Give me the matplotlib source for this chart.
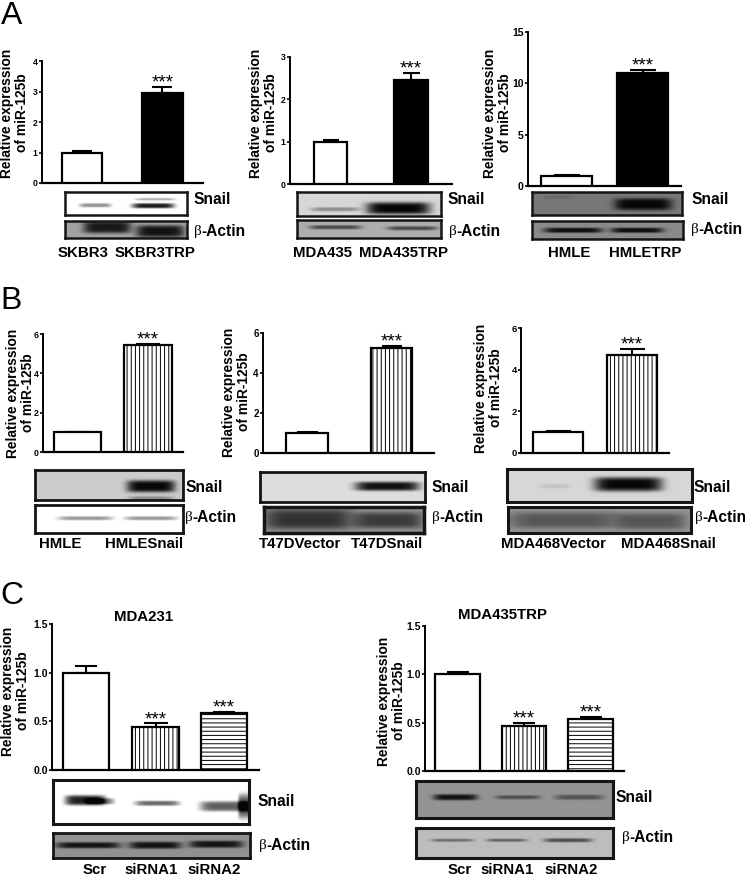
import numpy as np
import matplotlib

matplotlib.use("Agg")
import matplotlib.pyplot as p

p.rcParams["font.family"] = ["Liberation Sans", "DejaVu Sans"]
p.rcParams["hatch.linewidth"] = 0.7

WIDTH = 745
HEIGHT = 876

ylabel_text = "Relative expression\nof miR-125b"

# bar values and upper error
a1_values = [1.0, 2.95]
a1_err = [0.06, 0.2]
a2_values = [1.0, 2.45]
a2_err = [0.03, 0.17]
a3_values = [1.0, 11.0]
a3_err = [0.05, 0.3]
b1_values = [1.0, 5.45]
b1_err = [0.03, 0.03]
b2_values = [1.0, 5.25]
b2_err = [0.05, 0.1]
b3_values = [1.0, 4.7]
b3_err = [0.05, 0.28]
c1_values = [1.0, 0.44, 0.59]
c1_err = [0.07, 0.04, 0.01]
c2_values = [1.0, 0.47, 0.54]
c2_err = [0.02, 0.03, 0.02]

a1_ticks = [0, 1, 2, 3, 4]
a2_ticks = [0, 1, 2, 3]
a3_ticks = [0, 5, 10, 15]
b_ticks = [0, 2, 4, 6]
c_ticks = [0.0, 0.5, 1.0, 1.5]
c_ticklabels = ["0.0", "0.5", "1.0", "1.5"]


def px_rect(x0, y0, x1, y1):
    return [x0 / WIDTH, 1 - y1 / HEIGHT, (x1 - x0) / WIDTH, (y1 - y0) / HEIGHT]


def put_text(fig, x, y, s, **kw):
    kw.setdefault("ha", "center")
    kw.setdefault("va", "center")
    return fig.text(x / WIDTH, 1 - y / HEIGHT, s, **kw)


def draw_chart(fig, frame, bars, values, err, ticks, styles, stars, tick_size, ticklabels=None):
    x0, y_top, x1, y_bot = frame
    ax = fig.add_axes(px_rect(x0, y_top, x1, y_bot))
    ax.patch.set_alpha(0)
    for i, (left, right) in enumerate(bars):
        width = right - left
        centre = (left + right) / 2
        ax.errorbar(centre, values[i], yerr=[[0], [err[i]]], color="black", lw=1.5,
                    capsize=width * 0.25 * 0.72, capthick=1.5, zorder=2)
        ax.bar(centre, values[i], width=width, facecolor="white", edgecolor="black",
               linewidth=1.6, hatch=styles[i], zorder=3)
        if stars[i]:
            ax.annotate("***", (centre, values[i] + err[i]), xytext=(0, -0.5),
                        textcoords="offset points", ha="center", va="baseline", fontsize=13.5,
                        annotation_clip=False)
    ax.set_xlim(x0, x1)
    ax.set_ylim(ticks[0], ticks[-1])
    ax.set_xticks([])
    ax.set_yticks(ticks)
    if ticklabels:
        ax.set_yticklabels(ticklabels)
    ax.tick_params(axis="y", length=2.5, width=1.2, pad=0.5, labelsize=tick_size)
    for label in ax.get_yticklabels():
        label.set_fontweight("bold")
    ax.spines["top"].set_visible(False)
    ax.spines["right"].set_visible(False)
    ax.spines["left"].set_linewidth(1.4)
    ax.spines["bottom"].set_linewidth(1.6)
    return ax


def draw_blot(fig, rect, background, bands, frame_width=1.8):
    # a blot is a grey panel with soft dark bands on it, flat in the middle
    x0, y0, x1, y1 = rect
    ax = fig.add_axes(px_rect(x0, y0, x1, y1))
    xs, ys = np.meshgrid(np.arange(x0, x1, 0.5), np.arange(y0, y1, 0.5))
    density = np.zeros_like(xs, dtype=float)
    for cx, cy, wx, wy, strength in bands:
        density += strength * np.exp(-np.abs((xs - cx) / wx) ** 6 - np.abs((ys - cy) / wy) ** 4)
    img = background * (1 - np.clip(density, 0, 1)) + 0.02
    ax.imshow(img, cmap="gray", vmin=0, vmax=1, aspect="auto", interpolation="bilinear")
    ax.set_xticks([])
    ax.set_yticks([])
    for spine in ax.spines.values():
        spine.set_linewidth(frame_width)
        spine.set_color("#151515")


def snail_label(fig, x, y):
    put_text(fig, x, y, "Snail", ha="left", fontsize=11.2, fontweight="bold")


def actin_label(fig, x, y):
    put_text(fig, x, y, "β", ha="left", fontsize=11, family="Liberation Serif")
    put_text(fig, x + 7, y, "-Actin", ha="left", fontsize=11.2, fontweight="bold")


def y_label(fig, x, y):
    put_text(fig, x + 1.5, y, ylabel_text, rotation=90, fontsize=9.9, fontweight="bold",
             linespacing=1.12, multialignment="center")


def bold_label(fig, x, y, s, size=10.8):
    put_text(fig, x, y, s, fontsize=size, fontweight="bold")


def panel_letter(fig, x, y, s):
    put_text(fig, x, y, s, ha="left", va="baseline", fontsize=23)


def panel_a(fig):
    panel_letter(fig, 1, 24, "A")

    draw_chart(fig, (42, 61, 203, 183), [(62, 102), (142, 183)], a1_values, a1_err, a1_ticks,
               [None, None], [False, True], 6.3)
    fig.axes[-1].patches[1].set_facecolor("black")
    y_label(fig, 13, 113)
    draw_blot(fig, (65, 192, 187, 215), 1.0,
              [(95, 205, 16, 2, 0.45), (153, 205.5, 21, 2.5, 0.92), (155, 199, 20, 1.2, 0.35)])
    draw_blot(fig, (65, 221, 187, 238), 0.62, [(107, 227, 24, 6, 0.88), (160, 231, 24, 6, 0.92)])
    snail_label(fig, 194, 200)
    actin_label(fig, 194, 231)
    bold_label(fig, 83, 253, "SKBR3")
    bold_label(fig, 155, 253, "SKBR3TRP")

    draw_chart(fig, (290, 57, 452, 184), [(314, 347), (394, 428)], a2_values, a2_err, a2_ticks,
               [None, None], [False, True], 6.3)
    fig.axes[-1].patches[1].set_facecolor("black")
    y_label(fig, 262, 113)
    draw_blot(fig, (297, 192, 441, 216), 0.82, [(335, 209, 24, 2, 0.35), (398, 208, 32, 6, 1.0)])
    draw_blot(fig, (297, 220, 441, 238), 0.66, [(335, 227, 26, 2, 0.6), (412, 228, 25, 2, 0.6)])
    snail_label(fig, 448, 199)
    actin_label(fig, 449, 231)
    bold_label(fig, 323, 253, "MDA435")
    bold_label(fig, 403, 253, "MDA435TRP")

    draw_chart(fig, (528, 32, 681, 186), [(541, 592), (617, 668)], a3_values, a3_err, a3_ticks,
               [None, None], [False, True], 7.6)
    fig.axes[-1].patches[1].set_facecolor("black")
    y_label(fig, 496, 113)
    draw_blot(fig, (532, 192, 682, 215), 0.45, [(643, 204, 29, 6, 1.0), (557, 197, 14, 1.5, 0.15)])
    draw_blot(fig, (532, 221, 683, 239), 0.52, [(573, 230, 29, 2.5, 0.95), (637, 230, 26, 2.5, 0.95)])
    snail_label(fig, 691, 200)
    actin_label(fig, 691, 230)
    bold_label(fig, 569, 253, "HMLE")
    bold_label(fig, 645, 253, "HMLETRP")


def panel_b(fig):
    panel_letter(fig, 0, 309, "B")

    draw_chart(fig, (43, 334, 183, 452), [(54, 101), (124, 172)], b1_values, b1_err, b_ticks,
               [None, "||||"], [False, True], 6.3)
    y_label(fig, 19, 393)
    draw_blot(fig, (35, 470, 183, 500), 0.78, [(150, 486, 24, 6, 1.0), (150, 499, 22, 3, 0.35)], 2)
    draw_blot(fig, (35, 505, 183, 533), 1.0, [(85, 518, 27, 2, 0.42), (150, 518, 26, 2, 0.42)], 2)
    snail_label(fig, 185, 488)
    actin_label(fig, 185, 517)
    bold_label(fig, 60, 544, "HMLE")
    bold_label(fig, 144, 544, "HMLESnail")

    draw_chart(fig, (263, 333, 434, 453), [(286, 328), (371, 412)], b2_values, b2_err, b_ticks,
               [None, "||||"], [False, True], 7)
    y_label(fig, 235, 392)
    draw_blot(fig, (260, 472, 425, 502), 0.85, [(387, 486, 32, 4.5, 0.95)], 2)
    draw_blot(fig, (264, 507, 424, 533), 0.55, [(308, 519, 44, 10, 0.68), (388, 520, 34, 8, 0.62)], 2.5)
    snail_label(fig, 431, 488)
    actin_label(fig, 432, 517)
    bold_label(fig, 300, 544, "T47DVector")
    bold_label(fig, 387, 544, "T47DSnail")

    draw_chart(fig, (521, 328, 669, 453), [(533, 583), (607, 657)], b3_values, b3_err, b_ticks,
               [None, "||||"], [False, True], 6.8)
    y_label(fig, 487, 388)
    draw_blot(fig, (507, 469, 692, 502), 0.82, [(628, 484, 34, 7, 1.0), (555, 486, 15, 2, 0.1)], 2.2)
    draw_blot(fig, (508, 507, 691, 533), 0.55, [(563, 520, 54, 8, 0.42), (650, 521, 34, 8, 0.42)], 2.2)
    snail_label(fig, 694, 488)
    actin_label(fig, 695, 517)
    bold_label(fig, 553, 544, "MDA468Vector")
    bold_label(fig, 668, 544, "MDA468Snail")


def panel_c(fig):
    panel_letter(fig, 0, 604, "C")

    styles = [None, "||||", "----"]
    draw_chart(fig, (52, 624, 259, 770), [(63, 109), (132, 179), (201, 247)], c1_values, c1_err,
               c_ticks, styles, [False, True, True], 7.5, c_ticklabels)
    y_label(fig, 14, 691)
    bold_label(fig, 144, 617, "MDA231", 10.8)
    draw_blot(fig, (53, 780, 249, 824), 1.0,
              [(85, 800, 20, 5, 0.9), (100, 801, 14, 3, 0.5), (157, 803, 22, 2.5, 0.6),
               (225, 806, 25, 5, 0.65), (245, 806, 7, 12, 0.7)], 2.2)
    draw_blot(fig, (53, 833, 250, 858), 0.55,
              [(88, 845, 32, 3, 0.9), (155, 845, 26, 3.5, 0.9), (216, 844, 27, 3.5, 0.9)], 2)
    snail_label(fig, 258, 801)
    actin_label(fig, 259, 846)
    bold_label(fig, 95, 870, "Scr")
    bold_label(fig, 151, 870, "siRNA1")
    bold_label(fig, 214, 870, "siRNA2")

    draw_chart(fig, (425, 626, 624, 771), [(435, 480), (502, 546), (568, 613)], c2_values, c2_err,
               c_ticks, styles, [False, True, True], 7.5, c_ticklabels)
    y_label(fig, 390, 701)
    bold_label(fig, 503, 615, "MDA435TRP", 10.8)
    draw_blot(fig, (416, 781, 613, 818), 0.56,
              [(455, 797, 22, 3, 0.9), (517, 797, 22, 2, 0.5), (578, 797, 24, 2.5, 0.45)], 2.2)
    draw_blot(fig, (416, 828, 613, 858), 0.72,
              [(452, 840, 21, 1.5, 0.45), (506, 840, 20, 1.5, 0.5), (567, 840, 24, 2, 0.6)], 2.2)
    snail_label(fig, 616, 798)
    actin_label(fig, 622, 837)
    bold_label(fig, 460, 870, "Scr")
    bold_label(fig, 507, 870, "siRNA1")
    bold_label(fig, 571, 870, "siRNA2")


def main():
    fig = p.figure(figsize=(WIDTH / 100, HEIGHT / 100), dpi=100)
    panel_a(fig)
    panel_b(fig)
    panel_c(fig)
    fig.savefig("out.png", dpi=100)


if __name__ == "__main__":
    main()
